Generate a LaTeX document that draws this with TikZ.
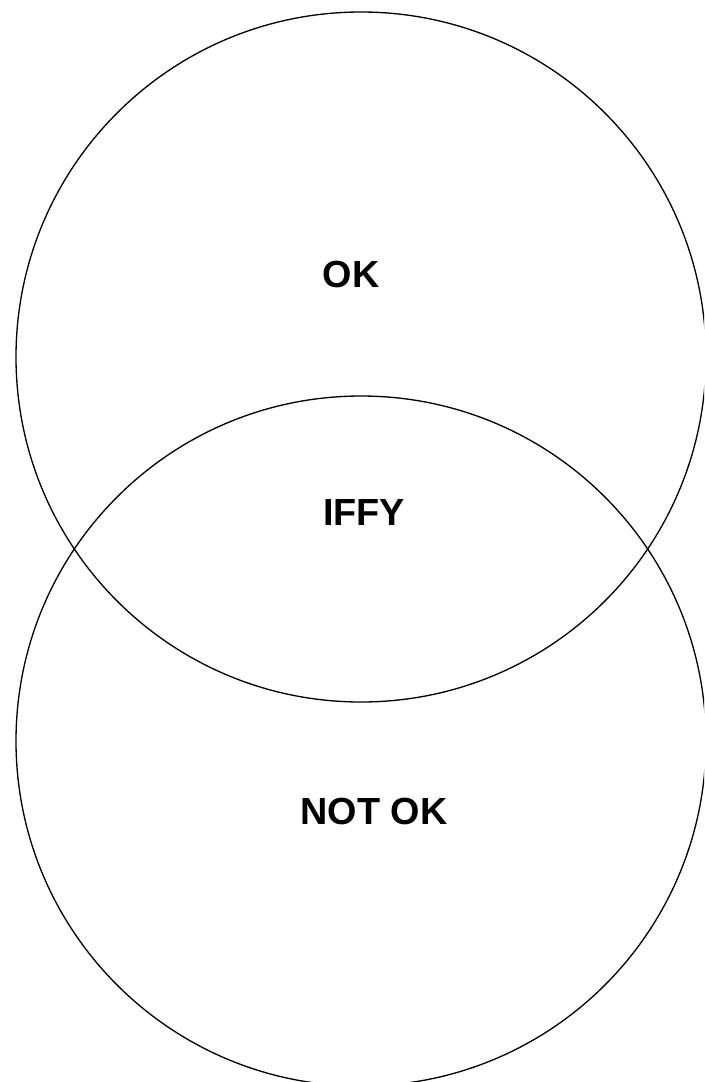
\documentclass[tikz,border=0pt]{standalone}
\usepackage{fontspec}
\setmainfont{Liberation Sans}
\usetikzlibrary{positioning}

\tikzset{
  ring/.style={draw=black,line width=0.75pt},
  zonelabel/.style={font=\fontsize{21.5}{24}\selectfont\bfseries,inner sep=0pt}
}

\begin{document}
\begin{tikzpicture}[x=0.02cm,y=-0.02cm]
  \useasboundingbox (0,0) rectangle (704,1082);
  \begin{scope}
    \clip (0,0) rectangle (704,1082);
    \draw[ring] (361,357) circle[radius=345];
    \draw[ring] (361,741) circle[radius=345];
  \end{scope}
  \node[zonelabel] (ok) at (351,274) {OK};
  \node[zonelabel] (iffy) at (364,512) {IFFY};
  \node[zonelabel] (notok) at (374,811) {NOT OK};
\end{tikzpicture}
\end{document}
